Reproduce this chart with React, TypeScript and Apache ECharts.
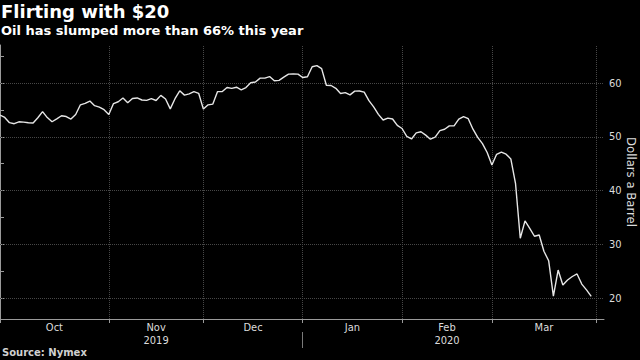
import React, { useEffect, useRef } from "react";
import * as echarts from "echarts";

// Trading-day calendar (months shown on the axis)
const monthNames = ["Sep", "Oct", "Nov", "Dec", "Jan", "Feb", "Mar"];
const monthTradingDays = [1, 23, 20, 21, 21, 19, 22];
const yearLabels = [
  { month: "Nov", text: "2019" },
  { month: "Feb", text: "2020" },
];
const yearSeparatorAfter = "Dec";

// WTI front-month settle, $ per barrel
const sep2019 = [54.07];
const oct2019 = [53.62, 52.64, 52.45, 52.81, 52.75, 52.63, 52.59, 53.55, 54.7, 53.59, 52.81, 53.36, 53.93, 53.78, 53.31, 54.16, 55.97, 56.23, 56.66, 55.81, 55.54, 55.06, 54.18];
const nov2019 = [56.2, 56.54, 57.23, 56.35, 57.15, 57.24, 56.86, 56.8, 57.12, 56.77, 57.72, 57.05, 55.21, 57.11, 58.58, 57.77, 58.01, 58.41, 58.11, 55.17];
const dec2019 = [55.96, 56.1, 58.43, 58.43, 59.2, 59.02, 59.24, 58.76, 59.18, 60.07, 60.21, 60.94, 60.93, 61.22, 60.44, 60.52, 61.11, 61.68, 61.72, 61.68, 61.06];
const jan2020 = [61.18, 63.05, 63.27, 62.7, 59.61, 59.56, 59.04, 58.08, 58.23, 57.81, 58.52, 58.54, 58.34, 56.74, 55.59, 54.19, 53.14, 53.48, 53.33, 52.14, 51.56];
const feb2020 = [50.11, 49.61, 50.75, 50.95, 50.32, 49.57, 49.94, 51.17, 51.42, 52.05, 52.05, 53.29, 53.78, 53.38, 51.43, 49.9, 48.73, 47.09, 44.76];
const mar2020 = [46.75, 47.18, 46.78, 45.9, 41.28, 31.13, 34.36, 32.98, 31.5, 31.73, 28.7, 26.95, 20.37, 25.22, 22.43, 23.36, 24.01, 24.49, 22.6, 21.51, 20.3];

const yTickLabels = [20, 30, 40, 50, 60];
const yMinorTicks = [25, 35, 45, 55, 65];
const yAxisTitle = "Dollars a Barrel";

const prices = [...sep2019, ...oct2019, ...nov2019, ...dec2019, ...jan2020, ...feb2020, ...mar2020];

export default function App() {
  const ref = useRef<HTMLDivElement>(null);

  useEffect(() => {
    if (!ref.current) return;
    const chart = echarts.init(ref.current, null, { renderer: "svg" });

    // month boundaries (index of last trading day of each month)
    const boundaries: number[] = [];
    let cum = 0;
    monthTradingDays.forEach((n) => {
      cum += n;
      boundaries.push(cum - 1);
    });
    const centers: { name: string; pos: number }[] = [];
    for (let k = 1; k < monthNames.length; k++) {
      centers.push({ name: monthNames[k], pos: (boundaries[k - 1] + boundaries[k]) / 2 });
    }
    const centerOf = (m: string) => centers.find((c) => c.name === m)!.pos;
    const yearPos = yearLabels.map((y) => ({ text: y.text, pos: centerOf(y.month) }));
    const sepPos = boundaries[monthNames.indexOf(yearSeparatorAfter)];

    const nearest = (arr: { pos: number }[], v: number) => {
      let best = arr[0];
      arr.forEach((a) => {
        if (Math.abs(a.pos - v) < Math.abs(best.pos - v)) best = a;
      });
      return best;
    };

    const data = prices.map((v, i) => [i, v]);
    const xMax = prices.length + 1.7;
    const font = "'DejaVu Sans Condensed', 'Liberation Sans Narrow', 'DejaVu Sans', sans-serif";
    const axisGray = "#9a9a9a";
    const gridGray = "#474747";

    chart.setOption({
      animation: false,
      backgroundColor: "#000000",
      title: {
        text: "Flirting with $20",
        subtext: "Oil has slumped more than 66% this year",
        left: 1,
        top: 2,
        padding: 0,
        itemGap: 4,
        textStyle: { color: "#ffffff", fontSize: 18, fontWeight: "bold", fontFamily: "'DejaVu Sans', sans-serif" },
        subtextStyle: { color: "#ffffff", fontSize: 13, fontWeight: "bold", fontFamily: "'DejaVu Sans', sans-serif" },
      },
      graphic: [
        {
          type: "text",
          left: 2,
          top: 347,
          style: {
            text: "Source: Nymex",
            fill: "#d0d0d0",
            font: "bold 10px 'DejaVu Sans', sans-serif",
          },
        },
        {
          type: "text",
          x: 631,
          y: 182,
          rotation: -Math.PI / 2,
          style: {
            text: yAxisTitle,
            fill: "#dcdcdc",
            font: "13px " + font,
            textAlign: "center",
            textVerticalAlign: "middle",
          },
        },
      ],
      grid: { left: 0, right: 36, top: 45, bottom: 41, containLabel: false, outerBoundsMode: "none" },
      xAxis: [
        {
          type: "value",
          min: 0,
          max: xMax,
          position: "bottom",
          axisLine: { show: true, lineStyle: { color: axisGray, width: 1 } },
          axisTick: { show: true, customValues: boundaries, length: 4, lineStyle: { color: axisGray } },
          axisLabel: {
            customValues: centers.map((c) => c.pos),
            formatter: (v: number) => nearest(centers, v).name,
            color: "#dcdcdc",
            fontSize: 11,
            fontFamily: font,
            margin: 3,
          },
          splitLine: { show: false },
        },
        {
          type: "value",
          min: 0,
          max: xMax,
          position: "bottom",
          offset: 13,
          axisLine: { show: false },
          axisTick: { show: true, customValues: [sepPos], length: 16, lineStyle: { color: "#7a7a7a" } },
          axisLabel: {
            customValues: yearPos.map((y) => y.pos),
            formatter: (v: number) => (nearest(yearPos, v) as any).text,
            color: "#dcdcdc",
            fontSize: 11,
            fontFamily: font,
            margin: 3,
          },
          splitLine: { show: false },
        },
      ],
      yAxis: {
        type: "value",
        position: "right",
        min: 16.1,
        max: 67.1,
        axisLine: { show: true, lineStyle: { color: axisGray } },
        axisTick: {
          show: true,
          customValues: [...yTickLabels, ...yMinorTicks].sort((a, b) => a - b),
          length: 4,
          lineStyle: { color: axisGray },
        },
        axisLabel: {
          customValues: yTickLabels,
          color: "#dcdcdc",
          fontSize: 11,
          fontFamily: font,
          margin: 5,
        },
        splitLine: { show: false },
      },
      series: [
        {
          type: "line",
          data: [],
          silent: true,
          markLine: {
            silent: true,
            z: 1,
            symbol: ["none", "none"],
            label: { show: false },
            emphasis: { disabled: true },
            lineStyle: { type: "dotted", color: gridGray, width: 1 },
            data: [
              ...yTickLabels.map((v) => ({ yAxis: v })),
              ...boundaries.slice(1).map((b) => ({ xAxis: b })),
            ],
          },
        },
        {
          type: "line",
          data,
          z: 3,
          showSymbol: false,
          symbol: "none",
          silent: true,
          lineStyle: { color: "#e6e6e6", width: 1.4 },
          emphasis: { disabled: true },
        },
      ],
    });

    return () => chart.dispose();
  }, []);

  return (
    <div
      ref={ref}
      style={{ position: "fixed", left: 0, top: 0, width: 640, height: 360 }}
    />
  );
}
